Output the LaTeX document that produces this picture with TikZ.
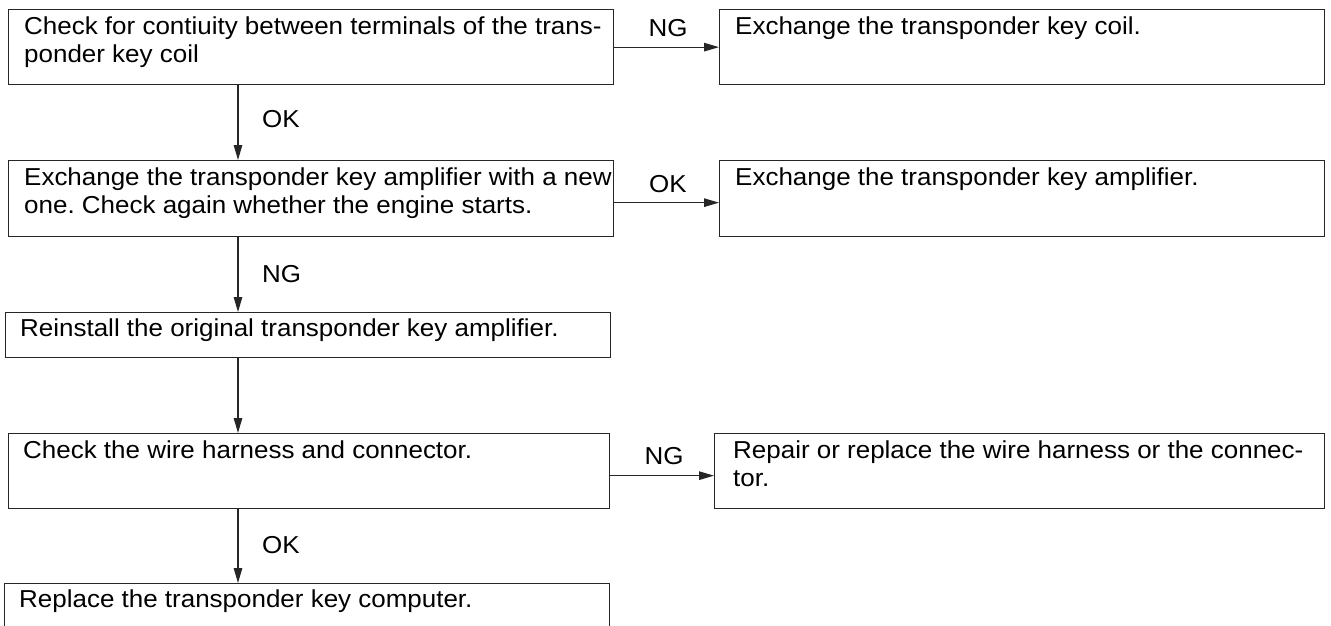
\documentclass[tikz,border=0pt]{standalone}
\usepackage{fontspec}
\setmainfont{Liberation Sans}[FakeStretch=1.06]
\usetikzlibrary{arrows.meta}
\frenchspacing
\begin{document}
\begin{tikzpicture}[x=1pt,y=-1pt,
  box/.style={draw=black!85,line width=1.3pt,inner sep=0pt,anchor=north west},
  txt/.style={anchor=north west,inner sep=0pt,align=left,font=\fontsize{24.5}{28}\selectfont\frenchspacing},
  lbl/.style={inner sep=0pt,font=\fontsize{24.5}{28}\selectfont},
  arr/.style={draw=black!85,line width=1.2pt,-{Triangle[length=15pt,width=8.5pt]}}]
\useasboundingbox (0,0) rectangle (1331,626);
\clip (0,0) rectangle (1331,626);
% boxes
\node[box,minimum width=605pt,minimum height=75pt] (b1) at (8,9) {};
\node[box,minimum width=605pt,minimum height=75pt] (r1) at (719,9) {};
\node[box,minimum width=605pt,minimum height=76pt] (b2) at (8,160) {};
\node[box,minimum width=605pt,minimum height=76pt] (r2) at (719,160) {};
\node[box,minimum width=605pt,minimum height=45pt] (b3) at (5,312) {};
\node[box,minimum width=601pt,minimum height=75pt] (b4) at (8,433) {};
\node[box,minimum width=610pt,minimum height=75pt] (r4) at (714,433) {};
\node[box,minimum width=605pt,minimum height=70pt] (b5) at (4,583) {};
% texts
\node[txt] (t1) at (24,14.4) {\strut Check for contiuity between terminals of the trans-\\ponder key coil};
\node[txt] (tr1) at (735,14.4) {\strut Exchange the transponder key coil.};
\node[txt] (t2) at (24,165.4) {\strut Exchange the transponder key amplifier with a new\\one. Check again whether the engine starts.};
\node[txt] (tr2) at (735,165.4) {\strut Exchange the transponder key amplifier.};
\node[txt] (t3) at (20,316.4) {\strut Reinstall the original transponder key amplifier.};
\node[txt] (t4) at (23,438.4) {\strut Check the wire harness and connector.};
\node[txt] (tr4) at (733,438.4) {\strut Repair or replace the wire harness or the connec-\\tor.};
\node[txt] (t5) at (19,587.4) {\strut Replace the transponder key computer.};
% horizontal connectors
\draw[arr] (b1.east) -- (r1.west);
\draw[arr] ([yshift=-4pt]b2.east) -- ([yshift=-4pt]r2.west);
\draw[arr] ([yshift=-4.5pt]b4.east) -- ([yshift=-4.5pt]r4.west);
\node[lbl,anchor=base] (l1) at (668,37) {NG};
\node[lbl,anchor=base] (l2) at (668,192) {OK};
\node[lbl,anchor=base] (l4) at (664,464) {NG};
% vertical connectors
\draw[arr] (238,0 |- b1.south) -- (238,0 |- b2.north);
\draw[arr] (238,0 |- b2.south) -- (238,0 |- b3.north);
\draw[arr] (238,0 |- b3.south) -- (238,0 |- b4.north);
\draw[arr] (238,0 |- b4.south) -- (238,0 |- b5.north);
\node[lbl,anchor=base west] (v1) at (262,127) {OK};
\node[lbl,anchor=base west] (v2) at (262,282) {NG};
\node[lbl,anchor=base west] (v4) at (262,553) {OK};
\end{tikzpicture}
\end{document}
